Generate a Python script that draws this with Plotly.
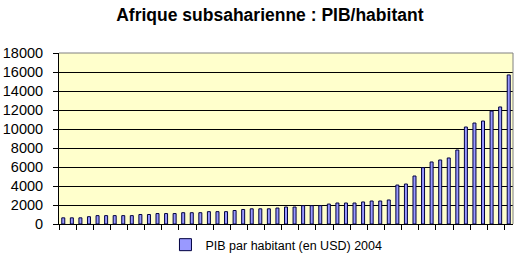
import plotly.graph_objects as go

categories = [str(i) for i in range(1, 54)]
pib_2004 = [650, 650, 650, 770, 880, 880, 880, 880, 880, 1000,
            1000, 1100, 1100, 1100, 1190, 1190, 1190, 1300, 1300, 1300,
            1420, 1530, 1600, 1600, 1600, 1680, 1790, 1790, 1930, 1930,
            1930, 2100, 2210, 2210, 2210, 2320, 2420, 2420, 2530, 4100,
            4210, 5050, 5930, 6530, 6740, 6950, 7790, 10210, 10630, 10840,
            11890, 12320, 15690]
y_ticks = [0, 2000, 4000, 6000, 8000, 10000, 12000, 14000, 16000, 18000]
y_tick_labels = [str(v) for v in y_ticks]

FONT = "Arial, Liberation Sans, sans-serif"

fig = go.Figure()
fig.add_trace(go.Bar(
    x=categories, y=pib_2004, name="PIB par habitant (en USD) 2004",
    width=0.35,
    marker=dict(color="#9999FF", line=dict(color="#000040", width=1)),
))

fig.update_layout(
    width=522, height=259,
    margin=dict(l=59, r=9, t=53, b=35, autoexpand=False),
    paper_bgcolor="white", plot_bgcolor="#FFFFCC",
    font=dict(family=FONT, color="black"),
    title=dict(text="<b>Afrique subsaharienne : PIB/habitant</b>",
               x=0.517, xanchor="center", y=1 - 15 / 259, yanchor="middle",
               yref="container", font=dict(size=17.5, family=FONT, color="black")),
    showlegend=True,
    legend=dict(orientation="h", x=0.479, xanchor="center", y=-0.123, yanchor="middle",
                itemwidth=30, font=dict(size=12.5, family=FONT), bgcolor="rgba(0,0,0,0)"),
    bargap=0.6,
)
fig.update_xaxes(type="category", showticklabels=False, ticks="outside", tickson="boundaries",
                 ticklen=5, tickcolor="black", showline=True, linecolor="black", linewidth=1,
                 showgrid=False)
fig.update_yaxes(range=[0, 18000], tickvals=y_ticks, ticktext=y_tick_labels,
                 ticks="outside", ticklen=5, tickcolor="black", ticklabelstandoff=7,
                 showline=True, linecolor="black", linewidth=1,
                 showgrid=True, gridcolor="black", gridwidth=1, zeroline=False,
                 tickfont=dict(size=14.5, family=FONT, color="black"))
fig.add_shape(type="line", xref="paper", yref="paper", x0=0, x1=1, y0=1, y1=1,
              line=dict(color="#808080", width=1))
fig.add_shape(type="line", xref="paper", yref="paper", x0=1, x1=1, y0=0, y1=1,
              line=dict(color="#808080", width=1))

fig.write_html("out.html", config={"displayModeBar": False})
